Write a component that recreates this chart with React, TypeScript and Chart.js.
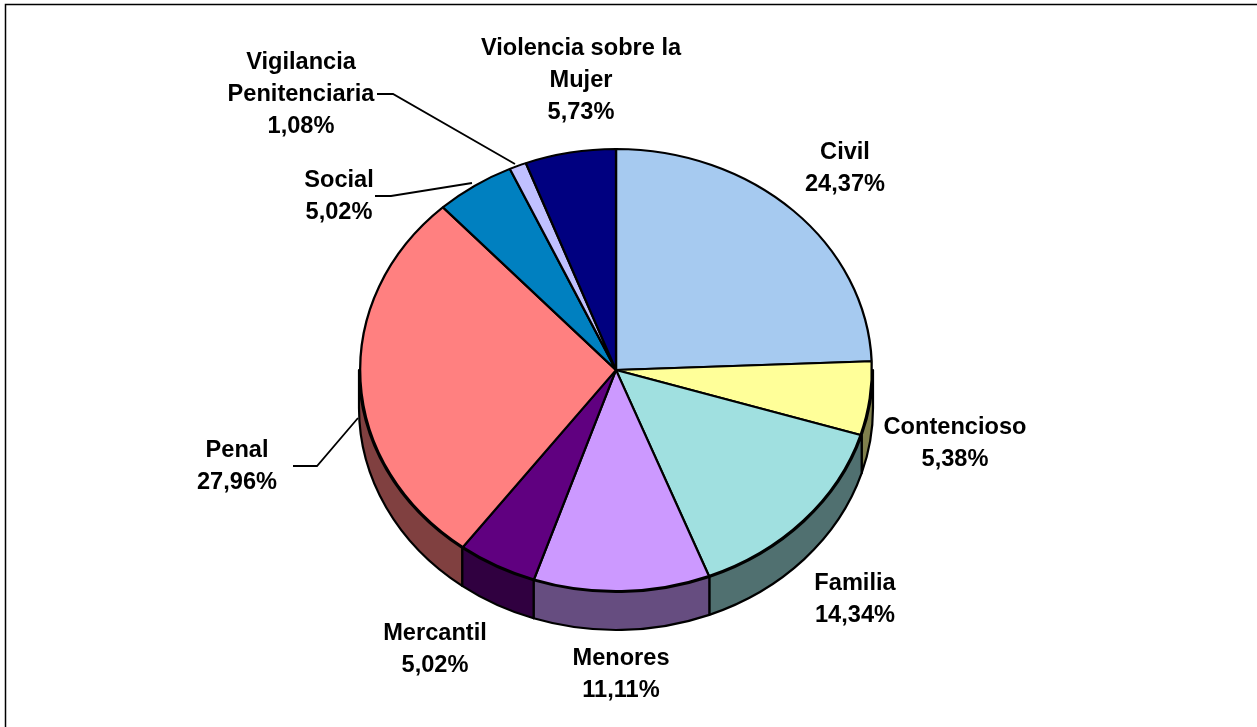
import React, { useEffect, useRef } from "react";
import { Chart, registerables } from "chart.js";

Chart.register(...registerables);

const categories = [
  "Civil",
  "Contencioso",
  "Familia",
  "Menores",
  "Mercantil",
  "Penal",
  "Social",
  "Vigilancia Penitenciaria",
  "Violencia sobre la Mujer",
];
const shares = [24.37, 5.38, 14.34, 11.11, 5.02, 27.96, 5.02, 1.08, 5.73];
const topColors = ["#A6CAF0", "#FFFF99", "#A0E0E0", "#CC99FF", "#600080", "#FF8080", "#0080C0", "#C0C0FF", "#000080"];
const wallColors = ["#536578", "#80804D", "#507070", "#664D80", "#300040", "#804040", "#006090", "#606080", "#000040"];

// Layout of the reference (pixels in the 1257x727 page)
const CX = 616;
const CY = 370;
const RX = 257;
const RY = 222;
const DEPTH = 38;
const TILT = RY / RX;
const FONT = 'bold 23.6px "Liberation Sans", Arial, sans-serif';
const LINE_GAP = 32;

const labelLines: string[][] = [
  ["Civil"],
  ["Contencioso"],
  ["Familia"],
  ["Menores"],
  ["Mercantil"],
  ["Penal"],
  ["Social"],
  ["Vigilancia", "Penitenciaria"],
  ["Violencia sobre la", "Mujer"],
];
const labelAnchors: [number, number][] = [
  [845, 152],
  [955, 427],
  [855, 583],
  [621, 658],
  [435, 633],
  [237, 450],
  [339, 180],
  [301, 62],
  [581, 48],
];
const leaders: [number, number][][] = [
  [[293, 466], [317, 466], [358, 418]],
  [[375, 196], [391, 196], [472, 183]],
  [[377, 94], [393, 94], [515, 164]],
];

const piePlugin = {
  id: "pie3d",
  beforeDraw(chart: any) {
    const { ctx } = chart;
    ctx.save();
    ctx.fillStyle = "#fff";
    ctx.fillRect(0, 0, chart.width, chart.height);
    ctx.strokeStyle = "#000";
    ctx.lineWidth = 1.5;
    ctx.beginPath();
    ctx.moveTo(5.5, chart.height);
    ctx.lineTo(5.5, 4.5);
    ctx.lineTo(chart.width, 4.5);
    ctx.stroke();
    ctx.restore();
  },
  beforeDatasetsDraw(chart: any) {
    const { ctx } = chart;
    const arcs = chart.getDatasetMeta(0).data;
    const order = arcs
      .map((arc: any, i: number) => ({ arc, i }))
      .filter(({ arc }: any) => {
        const norm = (a: number) => ((a % (2 * Math.PI)) + 2 * Math.PI) % (2 * Math.PI);
        const mid = norm((arc.startAngle + arc.endAngle) / 2);
        return mid > 0 && mid < Math.PI + 0.4;
      });
    ctx.save();
    ctx.lineWidth = 2.2;
    ctx.strokeStyle = "#000";
    ctx.lineJoin = "round";
    order.forEach(({ arc, i }: any) => {
      const s = Math.max(arc.startAngle, 0);
      const e = Math.min(arc.endAngle, Math.PI);
      if (e <= s) return;
      ctx.beginPath();
      ctx.ellipse(arc.x, CY, RX, RY, 0, s, e, false);
      ctx.ellipse(arc.x, CY + DEPTH, RX, RY, 0, e, s, true);
      ctx.closePath();
      ctx.fillStyle = wallColors[i];
      ctx.fill();
      ctx.stroke();
    });
    ctx.restore();
    ctx.save();
    ctx.translate(0, CY);
    ctx.scale(1, TILT);
    ctx.translate(0, -CY);
  },
  afterDatasetsDraw(chart: any) {
    const { ctx } = chart;
    ctx.restore();
    ctx.save();
    ctx.strokeStyle = "#000";
    ctx.lineWidth = 1.8;
    leaders.forEach((pts) => {
      ctx.beginPath();
      pts.forEach(([x, y], k) => (k ? ctx.lineTo(x, y) : ctx.moveTo(x, y)));
      ctx.stroke();
    });
    ctx.fillStyle = "#000";
    ctx.font = FONT;
    ctx.textAlign = "center";
    ctx.textBaseline = "middle";
    categories.forEach((_, i) => {
      const lines = [...labelLines[i], shares[i].toFixed(2).replace(".", ",") + "%"];
      const [x, y] = labelAnchors[i];
      lines.forEach((t, k) => ctx.fillText(t, x, y + k * LINE_GAP));
    });
    ctx.restore();
  },
};

export default function App() {
  const ref = useRef<HTMLCanvasElement | null>(null);
  useEffect(() => {
    document.body.style.background = "#fff";
    const chart = new Chart(ref.current as HTMLCanvasElement, {
      type: "pie",
      data: {
        labels: categories,
        datasets: [
          {
            data: shares,
            backgroundColor: topColors,
            borderColor: "#000",
            borderWidth: 2.3,
            hoverOffset: 0,
          },
        ],
      },
      options: {
        animation: false,
        responsive: false,
        devicePixelRatio: 1,
        layout: {
          padding: { left: CX - RX, right: 1257 - CX - RX, top: CY - RX, bottom: 727 - CY - RX },
        },
        plugins: { legend: { display: false }, tooltip: { enabled: false }, title: { display: false } },
      },
      plugins: [piePlugin],
    } as any);
    return () => chart.destroy();
  }, []);
  return (
    <canvas
      ref={ref}
      width={1257}
      height={727}
      style={{ position: "absolute", left: 0, top: 0, width: 1257, height: 727, display: "block" }}
    />
  );
}
